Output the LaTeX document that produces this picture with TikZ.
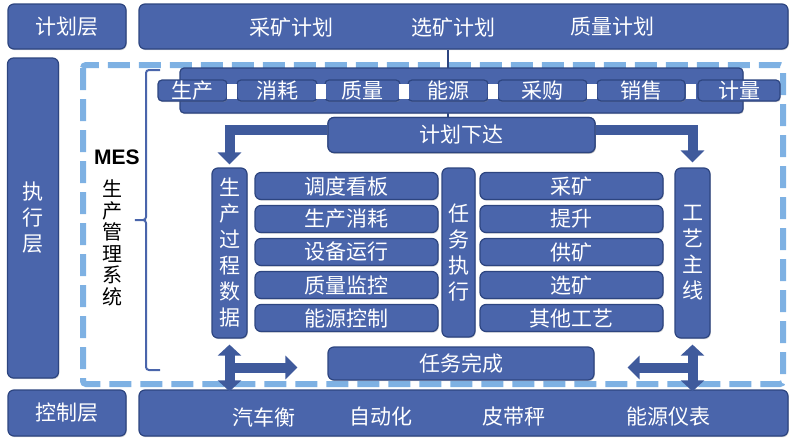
\documentclass[tikz,border=0pt]{standalone}
\usepackage{fontspec}
\newfontfamily\cjk{Noto Sans CJK SC}
\newfontfamily\mesfont{Liberation Sans}
\usetikzlibrary{arrows.meta,shadows}
\definecolor{boxblue}{HTML}{4A65AB}
\definecolor{boxedge}{HTML}{2D4580}
\definecolor{arrowblue}{HTML}{3F5A9C}
\definecolor{dashblue}{HTML}{7EB1E3}

\tikzset{
	blk/.style={fill=boxblue, draw=boxedge, line width=1.2pt, rounded corners=6pt, inner sep=0pt,
		text=white, font=\cjk\fontsize{21}{26}\selectfont, align=center,
		drop shadow={shadow xshift=0.8pt, shadow yshift=-1.2pt, opacity=0.35}},
	lbl/.style={text=white, font=\cjk\fontsize{21}{26}\selectfont},
	bigarrow/.style={arrowblue, line width=10pt, -{Triangle[width=23pt,length=12pt]}},
	twoway/.style={arrowblue, line width=10pt, {Triangle[width=23pt,length=11pt]}-{Triangle[width=23pt,length=11pt]}},
}

\begin{document}
\begin{tikzpicture}[x=1pt,y=-1pt]
\useasboundingbox (0,0) rectangle (800,442);

% MES frame and brace
\draw[dashblue, line width=6pt, dash pattern=on 22pt off 9pt, rounded corners=3pt] (83,65) rectangle (783,384);
\draw[boxblue, line width=2pt, rounded corners=3pt] (160,70) -| (146,220) -- (133,220) -- (146,220) |- (160,370);
\node[font=\mesfont\bfseries\fontsize{21}{24}\selectfont] (mes) at (117,157) {MES};
\node[font=\cjk\fontsize{20}{21.5}\selectfont, align=center] (sys) at (112,243) {生\\产\\管\\理\\系\\统};

% layers
\node[blk, minimum width=118pt, minimum height=45pt] (jh) at (67,26.5) {计划层};
\node[blk, minimum width=51pt, minimum height=320pt] (zx) at (33,218) {执\\行\\层};
\node[blk, minimum width=118pt, minimum height=46pt] (kz) at (67,413) {控制层};

\node[blk, minimum width=649pt, minimum height=45pt] (plan) at (463.5,26.5) {};
\node[lbl] at (291,27) {采矿计划};
\node[lbl] at (453,27) {选矿计划};
\node[lbl] at (612,27) {质量计划};

\node[blk, minimum width=649pt, minimum height=46pt] (ctl) at (463.5,413) {};
\node[lbl] at (264,417) {汽车衡};
\node[lbl] at (381,417) {自动化};
\node[lbl] at (514,417) {皮带秤};
\node[lbl] at (668,417) {能源仪表};

% data bar
\node[blk, minimum width=267pt, minimum height=35pt] (xd) at (461.5,135) {计划下达};
\draw[boxedge, line width=1.5pt] ([xshift=-13.5pt]xd.north) -- ([xshift=-13.5pt]xd.north |- plan.south);
\node[blk, rounded corners=4pt, minimum width=563pt, minimum height=45pt] (bar) at (461.5,90.5) {};
\foreach \a/\b/\txt [count=\i] in {158/227/生产,237/317/消耗,325/400/质量,408/488/能源,498/587/采购,597/685/销售,698/780/计量}{
	\node[blk, rounded corners=4pt, minimum width={(\b-\a)*1pt}, minimum height=21pt] (seg\i) at ({(\a+\b)/2},90.5) {\txt};
}
\foreach \x in {232,321,404,493,592,691}
	\fill[white] ({\x-5},84) rectangle ({\x+5},99);

% columns
\node[blk, minimum width=35pt, minimum height=170pt] (sc) at (229.5,253) {生\\产\\过\\程\\数\\据};
\node[blk, minimum width=33pt, minimum height=169pt] (rw) at (458.5,252.5) {任\\务\\执\\行};
\node[blk, minimum width=35pt, minimum height=170pt] (gy) at (692.5,253) {工\\艺\\主\\线};
\foreach \txt [count=\i] in {调度看板,生产消耗,设备运行,质量监控,能源控制}
	\node[blk, minimum width=183pt, minimum height=27pt] (l\i) at (346.5,{153+33*\i}) {\txt};
\foreach \txt [count=\i] in {采矿,提升,供矿,选矿,其他工艺}
	\node[blk, minimum width=183pt, minimum height=27pt] (r\i) at (571.5,{153+33*\i}) {\txt};
\node[blk, minimum width=266pt, minimum height=33pt] (wc) at (461,363.5) {任务完成};

% arrows
\draw[bigarrow] ([yshift=5pt]xd.west) -| ([yshift=3pt]sc.north);
\draw[bigarrow] ([yshift=5pt]xd.east) -| ([yshift=5pt]gy.north);
\node[blk, minimum width=267pt, minimum height=35pt] at (xd) {计划下达};

\coordinate (sb) at (sc.south |- ctl.north);
\coordinate (gb) at (gy.south |- ctl.north);
\draw[bigarrow] ([yshift=-4pt]sc.south |- wc.west) -- ([xshift=-30pt,yshift=-4pt]wc.west);
\draw[bigarrow] ([yshift=-4pt]gy.south |- wc.east) -- ([xshift=33pt,yshift=-4pt]wc.east);
\draw[twoway] ([yshift=-6pt]sc.south) -- ([yshift=-2pt]sb);
\draw[twoway] ([yshift=-6pt]gy.south) -- ([yshift=-2pt]gb);
\end{tikzpicture}
\end{document}
